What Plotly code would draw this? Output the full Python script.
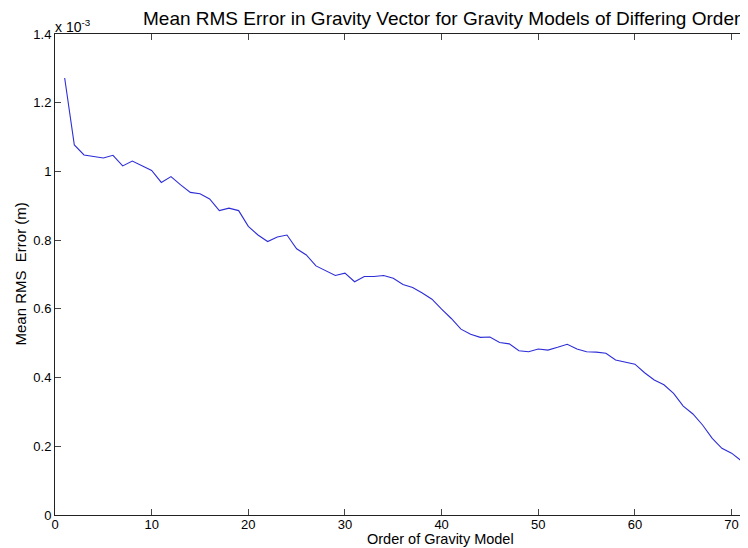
import plotly.graph_objects as go

# Data (values in units of 1e-3 m)
order = list(range(1, 73))
rms_err_e3 = [
    1.272, 1.077, 1.048, 1.043, 1.039, 1.047, 1.016, 1.030, 1.016, 1.003,
    0.968, 0.985, 0.961, 0.939, 0.935, 0.920, 0.886, 0.893, 0.886, 0.840,
    0.815, 0.796, 0.809, 0.815, 0.775, 0.757, 0.725, 0.711, 0.697, 0.704,
    0.679, 0.694, 0.694, 0.697, 0.689, 0.671, 0.662, 0.646, 0.628, 0.599,
    0.572, 0.541, 0.526, 0.517, 0.518, 0.502, 0.498, 0.478, 0.475, 0.483,
    0.480, 0.488, 0.497, 0.483, 0.475, 0.474, 0.471, 0.451, 0.444, 0.439,
    0.414, 0.393, 0.379, 0.354, 0.317, 0.294, 0.262, 0.223, 0.194, 0.180,
    0.158, 0.138,
]
y_ticks = [0, 0.2, 0.4, 0.6, 0.8, 1.0, 1.2, 1.4]
y_tick_text = ["0", "0.2", "0.4", "0.6", "0.8", "1", "1.2", "1.4"]
x_ticks = [0, 10, 20, 30, 40, 50, 60, 70]

title_text = "Mean RMS Error in Gravity Vector for Gravity Models of Differing Order"
x_title = "Order of Gravity Model"
y_title = "Mean RMS  Error (m)"

FONT = "Liberation Sans, Arial, Helvetica, sans-serif"

fig = go.Figure()
fig.add_trace(go.Scatter(
    x=order, y=rms_err_e3, mode="lines",
    line=dict(color="rgb(45,45,215)", width=1.1),
    showlegend=False, hoverinfo="skip",
))

axis_common = dict(
    showgrid=False, zeroline=False, showline=True, linecolor="#222",
    linewidth=1, ticks="inside", ticklen=6, tickcolor="#444", tickwidth=1,
    tickfont=dict(family=FONT, size=13, color="black"),
)

fig.update_xaxes(range=[0, 71.7], tickvals=x_ticks, mirror="ticks",
                 ticklabelstandoff=-3, **axis_common)
fig.update_yaxes(range=[0, 1.4], tickvals=y_ticks, ticktext=y_tick_text, **axis_common)

# page body has an 8px margin, so the figure is sized/offset to compensate
fig.update_layout(
    width=740, height=540,
    margin=dict(l=47, r=0, t=26, b=33),
    paper_bgcolor="white", plot_bgcolor="white",
    font=dict(family=FONT, color="black"),
    annotations=[
        dict(text=title_text, xref="paper", yref="paper",
             x=(442 - 55) / 693, y=1, yshift=16, xanchor="center", yanchor="middle",
             showarrow=False, font=dict(family=FONT, size=19, color="black")),
        dict(text=x_title, xref="paper", yref="paper",
             x=(440 - 55) / 693, y=0, yshift=-24, xanchor="center", yanchor="middle",
             showarrow=False, font=dict(family=FONT, size=14.5, color="black")),
        dict(text=y_title, xref="paper", yref="paper",
             x=0, xshift=-35, y=0.5, xanchor="center", yanchor="middle",
             textangle=-90, showarrow=False,
             font=dict(family=FONT, size=15, color="black")),
        dict(text="x 10<sup>-3</sup>", xref="paper", yref="paper",
             x=0, y=1, xanchor="left", yanchor="bottom", xshift=-2, yshift=-3,
             showarrow=False, font=dict(family=FONT, size=14, color="black")),
    ],
)

fig.write_html("out.html")
